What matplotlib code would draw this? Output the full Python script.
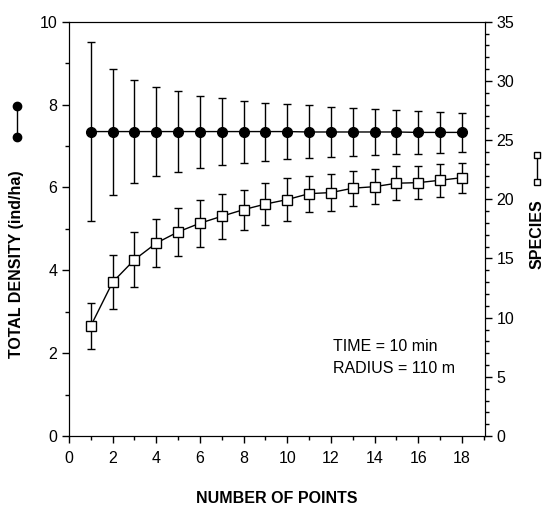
import matplotlib
matplotlib.use("Agg")
import matplotlib.pyplot as plt
from matplotlib.lines import Line2D
from matplotlib.ticker import MultipleLocator

plt.rcParams['font.family'] = ['Liberation Sans', 'DejaVu Sans']

# data
points = list(range(1, 19))
density = [7.35, 7.35, 7.35, 7.35, 7.35, 7.35, 7.35, 7.35, 7.35,
           7.35, 7.34, 7.34, 7.34, 7.34, 7.34, 7.33, 7.33, 7.33]
density_err = [2.17, 1.52, 1.25, 1.08, 0.98, 0.87, 0.81, 0.75, 0.70,
               0.67, 0.64, 0.61, 0.58, 0.56, 0.54, 0.52, 0.50, 0.48]
species = [9.3, 13.0, 14.9, 16.3, 17.25, 17.98, 18.57, 19.13, 19.6,
           19.98, 20.48, 20.57, 20.94, 21.07, 21.36, 21.41, 21.61, 21.83]
species_err = [1.97, 2.28, 2.3, 2.05, 2.05, 2.0, 1.9, 1.7, 1.75,
               1.8, 1.52, 1.55, 1.48, 1.45, 1.45, 1.41, 1.4, 1.27]

fig = plt.figure(figsize=(5.43, 5.07), dpi=100)
ax = fig.add_axes([0.127, 0.140, 0.766, 0.817])
ax2 = ax.twinx()

ax.errorbar(points, density, yerr=density_err, color="black", lw=1.0,
            elinewidth=1.0, capsize=3, capthick=1.0, marker="o", ms=7,
            mfc="black", mec="black", zorder=3)
ax2.errorbar(points, species, yerr=species_err, color="black", lw=1.0,
             elinewidth=1.0, capsize=3, capthick=1.0, marker="s", ms=6.5,
             mfc="white", mec="black", mew=1.0, zorder=3)

ax.set_xlim(0, 19.05)
ax.set_ylim(0, 10)
ax2.set_ylim(0, 35)

ax.xaxis.set_major_locator(MultipleLocator(2))
ax.xaxis.set_minor_locator(MultipleLocator(1))
ax.yaxis.set_major_locator(MultipleLocator(2))
ax.yaxis.set_minor_locator(MultipleLocator(1))
ax2.yaxis.set_major_locator(MultipleLocator(5))
ax2.yaxis.set_minor_locator(MultipleLocator(1))

for a in (ax, ax2):
    a.tick_params(which="both", direction="out", width=1.0, labelsize=11.5)
    a.tick_params(which="major", length=5)
    a.tick_params(which="minor", length=3)
ax.tick_params(axis="x", which="both", top=False)
ax.tick_params(axis="x", pad=6)

ax.set_xlabel("NUMBER OF POINTS", fontsize=11.5, fontweight="bold", labelpad=18)

fig.text(0.031, 0.478, "TOTAL DENSITY (ind/ha)", rotation=90, fontsize=11.5,
         fontweight="bold", ha="center", va="center")
fig.text(0.989, 0.538, "SPECIES", rotation=90, fontsize=11.5,
         fontweight="bold", ha="center", va="center")

# legend glyphs next to the axis titles
fig.add_artist(Line2D([0.031, 0.031], [0.791, 0.73], color="black", lw=1.0,
                      marker="o", ms=6, mfc="black", transform=fig.transFigure))
fig.add_artist(Line2D([0.989, 0.989], [0.641, 0.694], color="black", lw=1.0,
                      marker="s", ms=4.5, mfc="white", mec="black",
                      transform=fig.transFigure))

ax.text(0.635, 0.217, "TIME = 10 min", transform=ax.transAxes, fontsize=11.5,
        va="center")
ax.text(0.635, 0.162, "RADIUS = 110 m", transform=ax.transAxes, fontsize=11.5,
        va="center")

fig.savefig("out.png", dpi=100)
